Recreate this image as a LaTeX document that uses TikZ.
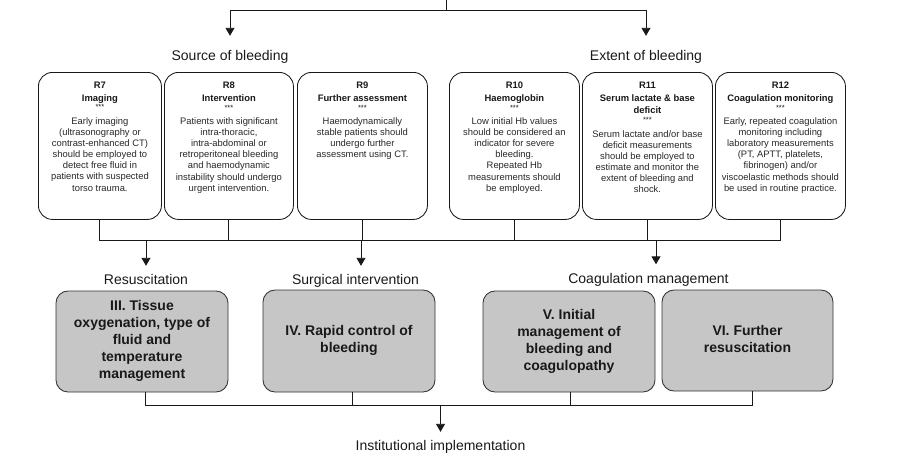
\documentclass[tikz,border=0pt]{standalone}
\usepackage{fontspec}
\setmainfont{Liberation Sans}
\usetikzlibrary{arrows.meta}
\definecolor{gfill}{RGB}{198,198,198}
\definecolor{ink}{RGB}{25,25,25}
\definecolor{bodyink}{RGB}{40,40,40}
\newcommand\rcontent[3]{\parbox[c][147pt][t]{#1pt}{\centering\fontsize{9.4}{11.1}\selectfont\vspace*{9.6pt}\textbf{#2}\\[-2.3pt]{\fontsize{7.5}{7.5}\selectfont ***}\\[3.4pt]{\color{bodyink}#3}\par}}
\newcommand\lowstrut{\rule[-4pt]{0pt}{4pt}}
\tikzset{
  rbox/.style={draw=ink, line width=0.85pt, rounded corners=14pt, fill=white, inner sep=0pt, anchor=north west, text=ink},
  gbox/.style={draw=ink!90, line width=0.85pt, rounded corners=12pt, fill=gfill, inner sep=0pt, align=center, text=ink,
    font=\fontsize{14}{17}\selectfont\bfseries},
  lab/.style={inner sep=0pt, anchor=base, text height=10pt, text depth=3pt, font=\fontsize{14}{17}\selectfont, text=ink},
  conn/.style={draw=ink, line width=0.9pt},
  arr/.style={conn, -{Triangle[width=9pt,length=8pt]}},
}
\begin{document}
\begin{tikzpicture}[x=1pt,y=-1pt]
\useasboundingbox (0,0) rectangle (899,456);
% top
\coordinate (topin) at (446,0);
\coordinate (topj) at (446,10);
\node[lab] (src) at (230,60) {Source of bleeding};
\node[lab] (ext) at (646,60) {Extent of bleeding};
\draw[conn] (topin) -- (topj);
\draw[arr, shorten >=14pt] (topj) -| (src.north);
\draw[arr, shorten >=14pt] (topj) -| (ext.north);
% recommendation boxes
\node[rbox] (R7) at (38,72) {\rcontent{123}{R7\\[1.6pt]Imaging}{Early imaging\\(ultrasonography or\\contrast-enhanced CT)\\should be employed to\\detect free fluid in\\patients with suspected\\torso trauma.}};
\node[rbox] (R8) at (164,72) {\rcontent{129}{R8\\[1.6pt]Intervention}{Patients with significant\\intra-thoracic,\\intra-abdominal or\\retroperitoneal bleeding\\and haemodynamic\\instability should undergo\\urgent intervention.}};
\node[rbox] (R9) at (297,72) {\rcontent{130}{R9\\[1.6pt]Further assessment}{Haemodynamically\\stable patients should\\undergo further\\assessment using CT.}};
\node[rbox] (R10) at (449,72) {\rcontent{130}{R10\\[1.6pt]Haemoglobin}{Low initial Hb values\\should be considered an\\indicator for severe\\bleeding.\\Repeated Hb\\measurements should\\be employed.}};
\node[rbox] (R11) at (582,72) {\rcontent{130}{R11\\[1.6pt]Serum lactate \& base\\[1.6pt]deficit}{Serum lactate and/or base\\deficit measurements\\should be employed to\\estimate and monitor the\\extent of bleeding and\\shock.}};
\node[rbox] (R12) at (715,72) {\rcontent{130}{R12\\[1.6pt]Coagulation monitoring}{Early, repeated coagulation\\monitoring including\\laboratory measurements\\(PT, APTT, platelets,\\fibrinogen) and/or\\viscoelastic methods should\\be used in routine practice.}};
% bus 1
\coordinate (bus) at (0,240);
\draw[conn] (R7.south) -- (R7.south |- bus) -- (R12.south |- bus) -- (R12.south);
\foreach \n in {R8,R9,R10,R11} \draw[conn] (\n.south) -- (\n.south |- bus);
\node[lab] (res) at (146,284) {Resuscitation};
\node[lab] (surg) at (355.5,284) {Surgical intervention};
\node[lab] (coag) at (648.5,283.5) {Coagulation management};
\draw[arr, shorten >=8pt] (res.north |- bus) -- (res.north);
\draw[arr, shorten >=8pt] ([xshift=5.5pt]surg.north |- bus) -- ([xshift=5.5pt]surg.north);
\draw[arr, shorten >=9pt] ([xshift=7.5pt]coag.north |- bus) -- ([xshift=7.5pt]coag.north);
% management boxes
\node[gbox, minimum width=172pt, minimum height=101pt] (III) at (142,341.5) {III. Tissue\\oxygenation, type of\\fluid and\\temperature\\management\lowstrut};
\node[gbox, minimum width=172pt, minimum height=102pt] (IV) at (349,341) {IV. Rapid control of\\bleeding\lowstrut};
\node[gbox, minimum width=172pt, minimum height=101pt] (V) at (569,341.5) {V. Initial\\management of\\bleeding and\\coagulopathy\lowstrut};
\node[gbox, minimum width=171pt, minimum height=101pt] (VI) at (747.5,340.5) {VI. Further\\resuscitation\lowstrut};
% bus 2
\coordinate (bus2) at (0,405);
\node[lab] (inst) at (440.5,450) {Institutional implementation};
\draw[conn] ([xshift=3pt]III.south) -- ([xshift=3pt]III.south |- bus2) -- ([xshift=4.5pt]VI.south |- bus2) -- ([xshift=4.5pt]VI.south);
\draw[conn] ([xshift=3pt]IV.south) -- ([xshift=3pt]IV.south |- bus2);
\draw[conn] ([xshift=1pt]V.south) -- ([xshift=1pt]V.south |- bus2);
\draw[arr, shorten >=8pt] (inst.north |- bus2) -- (inst.north);
\end{tikzpicture}
\end{document}
